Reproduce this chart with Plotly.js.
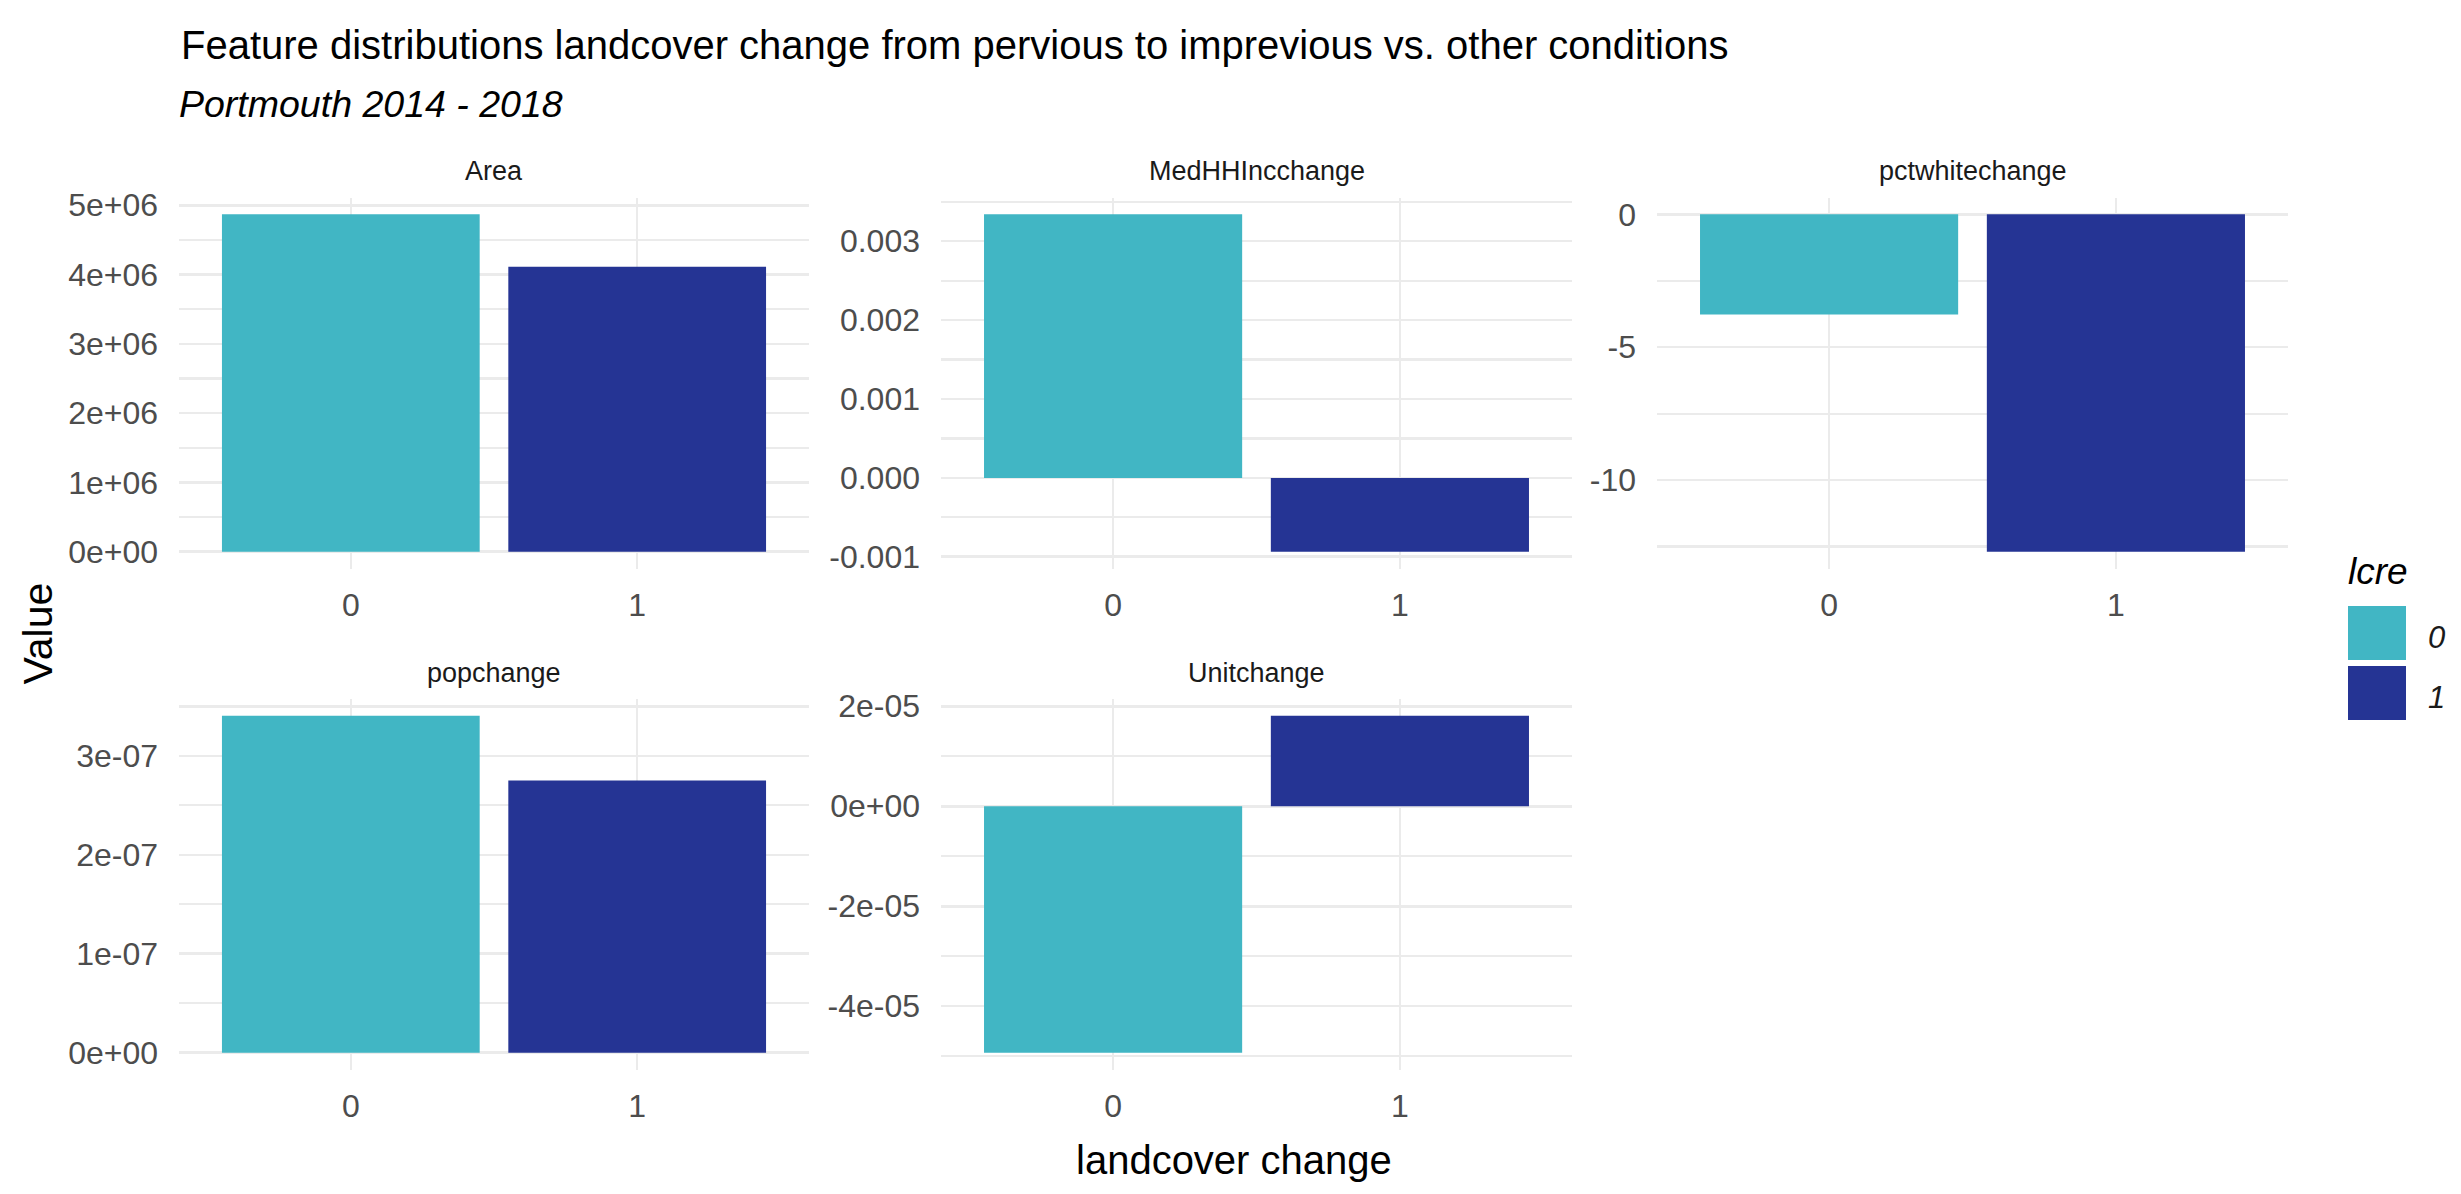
<!DOCTYPE html>
<html>
<head>
<meta charset="utf-8">
<script src="https://cdn.plot.ly/plotly-3.0.1.min.js"></script>
<style>
  html, body { margin: 0; padding: 0; background: #ffffff; }
  #chart { width: 2461px; height: 1194px; }
</style>
</head>
<body>
<div id="chart"></div>
<script>
// ---------------- DATA ----------------
const facets = ["Area", "MedHHIncchange", "pctwhitechange", "popchange", "Unitchange"];
const lcre = ["0", "1"];

const areaValues      = [4.868e6, 4.111e6];
const medHHIncValues  = [3.340e-3, -0.936e-3];
const pctWhiteValues  = [-3.77, -12.70];
const popValues       = [3.405e-7, 2.751e-7];
const unitValues      = [-4.93e-5, 1.809e-5];

const areaTicks = [0, 1e6, 2e6, 3e6, 4e6, 5e6];
const areaTickText = ["0e+00", "1e+06", "2e+06", "3e+06", "4e+06", "5e+06"];
const medTicks = [-0.001, 0, 0.001, 0.002, 0.003];
const medTickText = ["-0.001", "0.000", "0.001", "0.002", "0.003"];
const pctTicks = [-10, -5, 0];
const pctTickText = ["-10", "-5", "0"];
const popTicks = [0, 1e-7, 2e-7, 3e-7];
const popTickText = ["0e+00", "1e-07", "2e-07", "3e-07"];
const unitTicks = [-4e-5, -2e-5, 0, 2e-5];
const unitTickText = ["-4e-05", "-2e-05", "0e+00", "2e-05"];

const titleText = "Feature distributions landcover change from pervious to imprevious vs. other conditions";
const subtitleText = "Portmouth 2014 - 2018";
const xTitleText = "landcover change";
const yTitleText = "Value";
const legendTitleText = "lcre";

// ---------------- STYLE ----------------
const fillColors = ["#41B6C4", "#253494"];
const W = 2461, H = 1194;
const FONT = "Liberation Sans, Arial, Helvetica, sans-serif";
const gridColor = "#EBEBEB";

const seriesValues = [areaValues, medHHIncValues, pctWhiteValues, popValues, unitValues];
const tickVals = [areaTicks, medTicks, pctTicks, popTicks, unitTicks];
const tickTexts = [areaTickText, medTickText, pctTickText, popTickText, unitTickText];
const minorSteps = [5e5, 5e-4, 2.5, 5e-8, 1e-5];

// panel pixel boxes [left, right], [top, bottom]
const cols = [[179, 809], [941, 1572], [1657, 2288]];
const rows = [[197.5, 568.6], [699, 1069.5]];
const panelPos = [[0, 0], [1, 0], [2, 0], [0, 1], [1, 1]];

const px = v => v / W;
const py = v => 1 - v / H;

const data = [];
const layout = {
  width: W, height: H,
  margin: { l: 0, r: 0, t: 0, b: 0 },
  paper_bgcolor: "#ffffff",
  plot_bgcolor: "rgba(0,0,0,0)",
  showlegend: false,
  bargap: 0.1,
  font: { family: FONT, color: "#4D4D4D" },
  annotations: [],
  shapes: []
};

facets.forEach((name, i) => {
  const [ci, ri] = panelPos[i];
  const c = cols[ci], r = rows[ri];
  const suffix = i === 0 ? "" : String(i + 1);
  const vals = seriesValues[i];
  const lo = Math.min(0, ...vals), hi = Math.max(0, ...vals);
  const pad = (hi - lo) * 0.05;

  data.push({
    type: "bar",
    x: lcre,
    y: vals,
    width: 0.9,
    marker: { color: fillColors, line: { width: 0 } },
    xaxis: "x" + suffix,
    yaxis: "y" + suffix,
    hoverinfo: "x+y"
  });

  layout["xaxis" + suffix] = {
    domain: [px(c[0]), px(c[1])],
    anchor: "y" + suffix,
    type: "category",
    categoryorder: "array",
    categoryarray: lcre,
    range: [-0.6, 1.6],
    showgrid: true, gridcolor: gridColor, gridwidth: 2.4,
    zeroline: false, showline: false, ticks: "",
    ticklabelstandoff: 14,
    tickfont: { family: FONT, size: 32, color: "#4D4D4D" },
    fixedrange: true
  };
  layout["yaxis" + suffix] = {
    domain: [py(r[1]), py(r[0])],
    anchor: "x" + suffix,
    range: [lo - pad, hi + pad],
    tickmode: "array",
    tickvals: tickVals[i],
    ticktext: tickTexts[i],
    showgrid: true, gridcolor: gridColor, gridwidth: 2.6,
    minor: { tickmode: "linear", tick0: 0, dtick: minorSteps[i], showgrid: true,
             gridcolor: gridColor, gridwidth: 2.2, ticks: "" },
    zeroline: false, showline: false, ticks: "",
    ticklabelstandoff: 20,
    tickfont: { family: FONT, size: 32, color: "#4D4D4D" },
    fixedrange: true
  };

  // facet strip label
  layout.annotations.push({
    text: name, xref: "paper", yref: "paper",
    x: px((c[0] + c[1]) / 2), y: py(r[0] - 26),
    xanchor: "center", yanchor: "middle", showarrow: false,
    font: { family: FONT, size: 27, color: "#1A1A1A" }
  });
});

// titles
layout.annotations.push({
  text: titleText, xref: "paper", yref: "paper",
  x: px(179), y: py(45), xanchor: "left", yanchor: "middle", showarrow: false,
  font: { family: FONT, size: 40, color: "#000000" }
});
layout.annotations.push({
  text: "<i>" + subtitleText + "</i>", xref: "paper", yref: "paper",
  x: px(177), y: py(104), xanchor: "left", yanchor: "middle", showarrow: false,
  font: { family: FONT, size: 37.5, color: "#000000" }
});
layout.annotations.push({
  text: xTitleText, xref: "paper", yref: "paper",
  x: px((cols[0][0] + cols[2][1]) / 2), y: py(1160), xanchor: "center", yanchor: "middle",
  showarrow: false, font: { family: FONT, size: 40, color: "#000000" }
});
layout.annotations.push({
  text: yTitleText, xref: "paper", yref: "paper", textangle: -90,
  x: px(37), y: py((rows[0][0] + rows[1][1]) / 2), xanchor: "center", yanchor: "middle",
  showarrow: false, font: { family: FONT, size: 41, color: "#000000" }
});

// legend (drawn manually to match ggplot's large keys)
layout.annotations.push({
  text: "<i>" + legendTitleText + "</i>", xref: "paper", yref: "paper",
  x: px(2346), y: py(571), xanchor: "left", yanchor: "middle", showarrow: false,
  font: { family: FONT, size: 37, color: "#000000" }
});
const keyTop = [606, 666];
lcre.forEach((lab, k) => {
  layout.shapes.push({
    type: "rect", xref: "paper", yref: "paper",
    x0: px(2348), x1: px(2406), y0: py(keyTop[k] + 54), y1: py(keyTop[k]),
    fillcolor: fillColors[k], line: { width: 0 }
  });
  layout.annotations.push({
    text: "<i>" + lab + "</i>", xref: "paper", yref: "paper",
    x: px(2426), y: py(keyTop[k] + 31), xanchor: "left", yanchor: "middle", showarrow: false,
    font: { family: FONT, size: 31, color: "#1A1A1A" }
  });
});

Plotly.newPlot("chart", data, layout, { displayModeBar: false, staticPlot: true });
</script>
</body>
</html>
